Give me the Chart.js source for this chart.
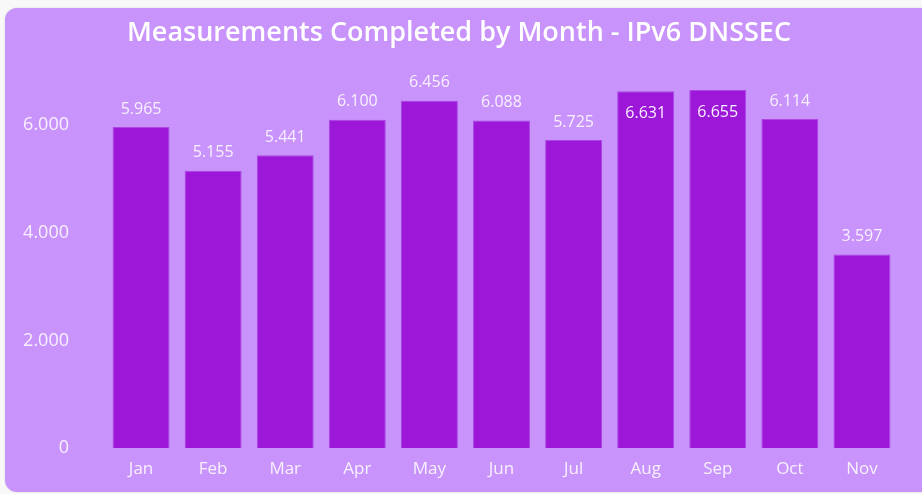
<!DOCTYPE html>
<html>
<head>
<meta charset="utf-8">
<script src="https://cdn.jsdelivr.net/npm/chart.js@4.4.0/dist/chart.umd.min.js"></script>
<style>
  html, body { margin: 0; padding: 0; background: #f8f8f8; }
  #wrap { position: relative; width: 922px; height: 494px; overflow: hidden; }
  #card {
    position: absolute; left: 5px; top: 8px; width: 940px; height: 484px;
    background: #c893fb; border-radius: 12px;
    box-shadow: 0 0 2px rgba(0,0,0,0.15);
  }
  #myChart { position: absolute; left: 0; top: 0; }
</style>
</head>
<body>
<div id="wrap">
  <div id="card"></div>
  <canvas id="myChart" width="922" height="494"></canvas>
</div>
<script>
const months = ['Jan', 'Feb', 'Mar', 'Apr', 'May', 'Jun', 'Jul', 'Aug', 'Sep', 'Oct', 'Nov'];
const measurements = [5965, 5155, 5441, 6100, 6456, 6088, 5725, 6631, 6655, 6114, 3597];
const yTicks = [0, 2000, 4000, 6000];

const textColor = '#f8f0ff';
const barColor = '#9c17d8';

// 6000 -> "6.000"
function fmt(v) {
  return String(Math.round(v)).replace(/\B(?=(\d{3})+(?!\d))/g, '.');
}

// draw value labels above bars, or inside when there is no room
const valueLabels = {
  id: 'valueLabels',
  afterDatasetsDraw(chart) {
    const c = chart.ctx;
    const area = chart.chartArea;
    const meta = chart.getDatasetMeta(0);
    c.save();
    c.font = '16px "Open Sans"';
    c.fillStyle = textColor;
    c.textAlign = 'center';
    c.textBaseline = 'middle';
    meta.data.forEach((bar, i) => {
      let y = bar.y - 18;
      if (y - 8 < area.top) y = bar.y + 22;
      c.fillText(fmt(measurements[i]), bar.x, y);
    });
    c.restore();
  }
};

const ctx = document.getElementById('myChart');

new Chart(ctx, {
  type: 'bar',
  data: {
    labels: months,
    datasets: [{
      label: 'Measurements',
      data: measurements,
      backgroundColor: barColor,
      borderColor: '#ac45e3',
      borderWidth: 1,
      categoryPercentage: 0.79,
      barPercentage: 1.0
    }]
  },
  options: {
    responsive: false,
    animation: false,
    layout: { padding: { left: 20, right: 24, top: 0, bottom: 0 } },
    scales: {
      y: {
        min: 0,
        max: 7000,
        grid: { display: false },
        border: { display: false },
        afterBuildTicks: (axis) => {
          axis.ticks = yTicks.map(v => ({ value: v }));
        },
        afterFit: (axis) => { axis.width = 85; },
        ticks: {
          padding: 28,
          color: textColor,
          font: { family: 'Open Sans', size: 18 },
          callback: (v) => fmt(v)
        }
      },
      x: {
        grid: { display: false },
        border: { display: false },
        afterFit: (axis) => { axis.height = 46; },
        ticks: {
          padding: 3,
          color: textColor,
          font: { family: 'Open Sans', size: 17 }
        }
      }
    },
    plugins: {
      legend: { display: false },
      tooltip: { enabled: false },
      title: {
        display: true,
        text: 'Measurements Completed by Month - IPv6 DNSSEC',
        color: '#ffffff',
        font: { family: 'Open Sans', size: 27, weight: '600' },
        padding: { top: 17, bottom: 22 }
      }
    }
  },
  plugins: [valueLabels]
});
</script>
</body>
</html>
